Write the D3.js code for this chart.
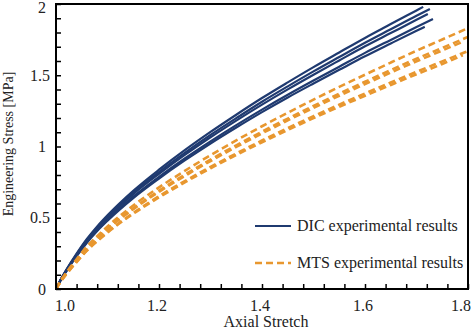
<!DOCTYPE html>
<html><head><meta charset="utf-8">
<script src="https://cdn.jsdelivr.net/npm/d3@7"></script>
<style>
body{margin:0;background:#fff;}
svg text{font-family:"Liberation Serif","Times New Roman",serif;fill:#222;}
</style></head>
<body><svg id="c" width="472" height="331"></svg>
<script>
// ---- data ----
const dicStretch = [
  [1.0,1.01,1.02,1.04,1.06,1.08,1.1,1.15,1.2,1.25,1.3,1.35,1.4,1.45,1.5,1.55,1.6,1.65,1.7,1.713],
  [1.0,1.01,1.02,1.04,1.06,1.08,1.1,1.15,1.2,1.25,1.3,1.35,1.4,1.45,1.5,1.55,1.6,1.65,1.7,1.726],
  [1.0,1.01,1.02,1.04,1.06,1.08,1.1,1.15,1.2,1.25,1.3,1.35,1.4,1.45,1.5,1.55,1.6,1.65,1.7,1.722],
  [1.0,1.01,1.02,1.04,1.06,1.08,1.1,1.15,1.2,1.25,1.3,1.35,1.4,1.45,1.5,1.55,1.6,1.65,1.7,1.732],
  [1.0,1.01,1.02,1.04,1.06,1.08,1.1,1.15,1.2,1.25,1.3,1.35,1.4,1.45,1.5,1.55,1.6,1.65,1.7,1.716]
];
const dicStress = [
  [0,0.072,0.134,0.248,0.351,0.439,0.517,0.689,0.837,0.974,1.102,1.223,1.340,1.450,1.557,1.660,1.762,1.859,1.955,1.98],
  [0,0.071,0.132,0.243,0.344,0.431,0.507,0.676,0.821,0.955,1.081,1.199,1.314,1.422,1.527,1.628,1.728,1.823,1.918,1.965],
  [0,0.070,0.130,0.240,0.339,0.424,0.499,0.666,0.808,0.941,1.065,1.182,1.294,1.401,1.504,1.604,1.703,1.796,1.889,1.93],
  [0,0.068,0.126,0.233,0.330,0.413,0.486,0.648,0.787,0.916,1.036,1.150,1.259,1.363,1.463,1.560,1.657,1.748,1.838,1.895],
  [0,0.067,0.124,0.230,0.325,0.407,0.479,0.638,0.775,0.902,1.021,1.133,1.241,1.344,1.442,1.538,1.633,1.723,1.812,1.84]
];
const mtsStretch = [
  [1.0,1.01,1.02,1.04,1.06,1.08,1.1,1.15,1.2,1.25,1.3,1.35,1.4,1.45,1.5,1.55,1.6,1.65,1.7,1.75,1.8],
  [1.0,1.01,1.02,1.04,1.06,1.08,1.1,1.15,1.2,1.25,1.3,1.35,1.4,1.45,1.5,1.55,1.6,1.65,1.7,1.75,1.8],
  [1.0,1.01,1.02,1.04,1.06,1.08,1.1,1.15,1.2,1.25,1.3,1.35,1.4,1.45,1.5,1.55,1.6,1.65,1.7,1.75,1.79],
  [1.0,1.01,1.02,1.04,1.06,1.08,1.1,1.15,1.2,1.25,1.3,1.35,1.4,1.45,1.5,1.55,1.6,1.65,1.7,1.75,1.8],
  [1.0,1.01,1.02,1.04,1.06,1.08,1.1,1.15,1.2,1.25,1.3,1.35,1.4,1.45,1.5,1.55,1.6,1.65,1.7,1.75,1.79]
];
const mtsStress = [
  [0,0.063,0.115,0.209,0.298,0.371,0.439,0.586,0.713,0.829,0.939,1.043,1.142,1.237,1.329,1.418,1.504,1.589,1.672,1.751,1.831],
  [0,0.061,0.111,0.202,0.288,0.359,0.425,0.566,0.690,0.802,0.908,1.008,1.104,1.196,1.285,1.371,1.454,1.536,1.616,1.692,1.769],
  [0,0.060,0.110,0.200,0.285,0.355,0.420,0.560,0.682,0.793,0.898,0.997,1.092,1.183,1.271,1.356,1.438,1.519,1.598,1.674,1.735],
  [0,0.057,0.105,0.191,0.272,0.339,0.401,0.534,0.651,0.757,0.857,0.951,1.042,1.129,1.213,1.294,1.372,1.449,1.524,1.597,1.670],
  [0,0.057,0.104,0.189,0.269,0.335,0.396,0.528,0.643,0.748,0.847,0.940,1.030,1.116,1.199,1.279,1.356,1.432,1.507,1.579,1.640]
];
const xTickLabels = ["1.0","1.2","1.4","1.6","1.8"];
const yTickLabels = ["0","0.5","1","1.5","2"];
const legendLabels = ["DIC experimental results","MTS experimental results"];

// ---- chart ----
const svg = d3.select("#c");
const L=56, R=468, T=4, B=289;
const x = d3.scaleLinear().domain([1.0,1.8]).range([L,R]);
const y = d3.scaleLinear().domain([0,2]).range([B,T]);
const navy="#1f3a70", orange="#E8972F";

const line = d3.line().x(d=>x(d[0])).y(d=>y(d[1])).curve(d3.curveMonotoneX);

const plot = svg.append("g");
dicStretch.forEach((s,i)=>{
  plot.append("path").datum(s.map((v,j)=>[v,dicStress[i][j]]))
    .attr("d",line).attr("fill","none").attr("stroke",navy).attr("stroke-width",2.2);
});
mtsStretch.forEach((s,i)=>{
  plot.append("path").datum(s.map((v,j)=>[v,mtsStress[i][j]]))
    .attr("d",line).attr("fill","none").attr("stroke",orange).attr("stroke-width",2.6)
    .attr("stroke-dasharray","7,4");
});

// axes with inward ticks
const xAxis = d3.axisBottom(x).tickValues(d3.range(0,21).map(i=>1+i*0.04)).tickSize(-5).tickFormat("");
const gx = svg.append("g").attr("transform",`translate(0,${B})`).call(xAxis);
const yAxis = d3.axisLeft(y).tickValues(d3.range(0,21).map(i=>i*0.1)).tickSize(-5).tickFormat("");
const gy = svg.append("g").attr("transform",`translate(${L},0)`).call(yAxis);
[gx,gy].forEach(g=>{
  g.select(".domain").remove();
  g.selectAll(".tick line").attr("stroke","#000").attr("stroke-width",1.5);
});
// frame
svg.append("rect").attr("x",L).attr("y",T).attr("width",R-L).attr("height",B-T)
  .attr("fill","none").attr("stroke","#000").attr("stroke-width",2);

// tick labels
xTickLabels.forEach((t,i)=>{
  const v=+t;
  const el = svg.append("text").attr("y",311).attr("font-size",16).text(t);
  if(i===0) el.attr("x",x(v)-1).attr("text-anchor","start");
  else if(i===4) el.attr("x",471).attr("text-anchor","end");
  else el.attr("x",x(v)-2).attr("text-anchor","middle");
});
yTickLabels.forEach(t=>{
  const v=+t;
  svg.append("text").attr("x",t.length>1?50:46).attr("y",Math.max(y(v)+5.5,13))
    .attr("text-anchor","end").attr("font-size",16).text(t);
});
// axis titles
svg.append("text").attr("x",266).attr("y",327).attr("text-anchor","middle")
  .attr("font-size",16).text("Axial Stretch");
svg.append("text").attr("transform",`translate(13,144) rotate(-90)`).attr("text-anchor","middle")
  .attr("font-size",14).text("Engineering Stress [MPa]");

// legend
const lg = svg.append("g");
[[navy,null,2.2],[orange,"7,4",2.6]].forEach((st,i)=>{
  const yy = 226 + i*37;
  lg.append("line").attr("x1",255).attr("x2",291).attr("y1",yy).attr("y2",yy)
    .attr("stroke",st[0]).attr("stroke-width",st[2]).attr("stroke-dasharray",st[1]);
  lg.append("text").attr("x",297).attr("y",yy+4.5).attr("font-size",16).text(legendLabels[i]);
});
</script></body></html>
